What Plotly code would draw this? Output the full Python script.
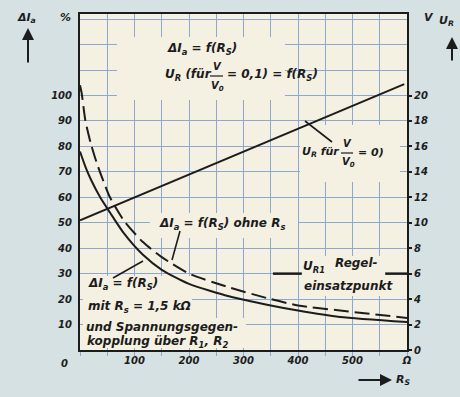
import plotly.graph_objects as go

# ---------------- data ----------------
# R_S in Ohm
r_ohne = [0, 3, 10, 20, 30, 40, 55, 80, 115, 150, 200, 275, 350, 400, 477, 600]
di_ohne = [104, 101, 90, 81, 74, 68, 60, 51, 42.5, 36.5, 30, 24.5, 20, 17.5, 15.5, 12.6]

r_mit = [0, 10, 20, 37, 55, 80, 115, 150, 200, 275, 350, 400, 477, 600]
di_mit = [78, 72, 67, 60, 54, 46, 37.5, 31.5, 26, 21, 17.5, 15.5, 13, 11]

r_ur = [0, 595]
u_r = [10.2, 20.9]

r_ur1 = [354, 407, None, 560, 600]
u_r1 = [6, 6, None, 6, 6]

x_ticks = [100, 200, 300, 400, 500, 600]
x_text = ["100", "200", "300", "400", "500", "Ω"]
yl_ticks = [10, 20, 30, 40, 50, 60, 70, 80, 90, 100, 110, 120, 130]
yl_text = ["10", "20", "30", "40", "50", "60", "70", "80", "90", "100", " ", " ", " "]
yr_ticks = [0, 2, 4, 6, 8, 10, 12, 14, 16, 18, 20]
yr_text = [str(v) for v in yr_ticks]

# ---------------- style ----------------
INK = "#1c1c1c"
PAPER = "#d5e1e3"
PLOT = "#f4f1e2"
GRID = "#8ea7cf"
FONT = "DejaVu Sans"

W, H = 460, 397
L, R, T, B = 80, 407, 14, 350
YL_MAX = (B - T) / 2.545
YR_MAX = YL_MAX / 5


def px(x, y):
    return (x - L) / (R - L), (B - y) / (B - T)


def rx(x):
    return (x - L) / (R - L) * 600


def ly(y):
    return (B - y) / (B - T) * YL_MAX


fig = go.Figure()

fig.add_trace(go.Scatter(x=r_ohne, y=di_ohne, mode="lines", line=dict(color=INK, width=2, dash="15px,6px", shape="spline", smoothing=0.6), hoverinfo="skip", showlegend=False))
fig.add_trace(go.Scatter(x=r_mit, y=di_mit, mode="lines", line=dict(color=INK, width=2, shape="spline", smoothing=0.6), hoverinfo="skip", showlegend=False))
fig.add_trace(go.Scatter(x=r_ur, y=u_r, yaxis="y2", mode="lines", line=dict(color=INK, width=2), hoverinfo="skip", showlegend=False))
fig.add_trace(go.Scatter(x=r_ur1, y=u_r1, yaxis="y2", mode="lines", line=dict(color=INK, width=2.5), hoverinfo="skip", showlegend=False, connectgaps=False))

# masks hiding the grid behind text
masks = [
    (117, 37, 285, 100),
    (300, 125, 400, 182),
    (150, 213, 298, 238),
    (83, 276, 192, 348),
    (192, 318, 246, 348),
    (300, 256, 400, 296),
]
shapes = []
for x0, y0, x1, y1 in masks:
    shapes.append(dict(type="rect", xref="x", yref="y", x0=rx(x0), x1=rx(x1), y0=ly(y1), y1=ly(y0),
                       fillcolor=PLOT, line=dict(width=0), layer="between"))

# leader lines and fraction bars
def seg(x0, y0, x1, y1, w=1.6):
    a0, b0 = px(x0, y0)
    a1, b1 = px(x1, y1)
    shapes.append(dict(type="line", xref="paper", yref="paper", x0=a0, y0=b0, x1=a1, y1=b1,
                       line=dict(color=INK, width=w)))

seg(305, 121, 332, 142)
seg(180, 231, 172, 260)
seg(113, 278, 143, 261)
seg(210, 76, 223, 76, 1.2)
seg(341, 153, 353, 153, 1.2)

annotations = []


def txt(x, y, s, size=12, anchor="left"):
    a, b = px(x, y)
    annotations.append(dict(x=a, y=b, xref="paper", yref="paper", text=s, showarrow=False,
                            xanchor=anchor, yanchor="middle",
                            font=dict(family=FONT, size=size, color=INK, style="italic", weight="bold")))


txt(165, 49, "ΔI<sub>a</sub> = f(R<sub>S</sub>)")
txt(163, 75, "U<sub>R</sub> (für")
txt(217, 66, "V", 10, "center")
txt(217, 86, "V<sub>0</sub>", 10, "center")
txt(225, 75, "= 0,1) = f(R<sub>S</sub>)")

txt(300, 152, "U<sub>R</sub> für", 11)
txt(347, 143, "V", 10, "center")
txt(348, 162, "V<sub>0</sub>", 10, "center")
txt(356, 152, "= 0)", 11)

txt(157, 224, "ΔI<sub>a</sub> = f(R<sub>S</sub>) ohne R<sub>s</sub>")

txt(86, 284, "ΔI<sub>a</sub> = f(R<sub>S</sub>)")
txt(86, 307, "mit R<sub>s</sub> = 1,5 kΩ")
txt(84, 327, "und Spannungsgegen-")
txt(85, 342, "kopplung über R<sub>1</sub>, R<sub>2</sub>")

txt(301, 267, "U<sub>R1</sub>")
txt(333, 263, "Regel-")
txt(302, 286, "einsatzpunkt")

txt(15, 18, "ΔI<sub>a</sub>", 11)
txt(58, 18, "%", 11)
txt(422, 18, "V", 11)
txt(437, 21, "U<sub>R</sub>", 11)
txt(394, 380, "R<sub>S</sub>", 11)
txt(64, 363, "0", 10, "center")

# arrows
def arrow(xh, yh, dx, dy):
    a, b = px(xh, yh)
    annotations.append(dict(x=a, y=b, xref="paper", yref="paper", text="", showarrow=True,
                            ax=dx, ay=dy, axref="pixel", ayref="pixel",
                            arrowhead=2, arrowsize=1.2, arrowwidth=2, arrowcolor=INK))

arrow(28, 28, 0, 36)
arrow(452, 37, 0, 25)
arrow(392, 380, -35, 0)

fig.update_layout(
    width=W, height=H,
    margin=dict(l=L, r=W - R, t=T, b=H - B),
    paper_bgcolor=PAPER, plot_bgcolor=PLOT,
    shapes=shapes, annotations=annotations,
    showlegend=False,
    xaxis=dict(range=[0, 600], tickvals=x_ticks, ticktext=x_text, showgrid=True, gridcolor=GRID, gridwidth=1,
               minor=dict(dtick=50, tick0=0, showgrid=True, gridcolor=GRID, gridwidth=1, ticks="outside", ticklen=4, tickcolor=GRID),
               ticks="", showline=True, linecolor=INK, linewidth=2, mirror=True, zeroline=False,
               tickfont=dict(family=FONT, size=10, color=INK, style="italic", weight="bold")),
    yaxis=dict(range=[0, YL_MAX], tickvals=yl_ticks, ticktext=yl_text, showgrid=True, gridcolor=GRID, gridwidth=1,
               ticks="", showline=True, linecolor=INK, linewidth=2, mirror=True, zeroline=False,
               ticklabelstandoff=4,
               tickfont=dict(family=FONT, size=10, color=INK, style="italic", weight="bold")),
    yaxis2=dict(range=[0, YR_MAX], overlaying="y", side="right", tickvals=yr_ticks, ticktext=yr_text,
                showgrid=False, zeroline=False, ticks="outside", ticklen=4, tickcolor=INK, tickwidth=1.5,
                tickfont=dict(family=FONT, size=10, color=INK, style="italic", weight="bold")),
)

fig.write_html("out.html", config={"displayModeBar": False},
               post_script="document.body.style.margin='0';document.body.style.overflow='hidden';")
